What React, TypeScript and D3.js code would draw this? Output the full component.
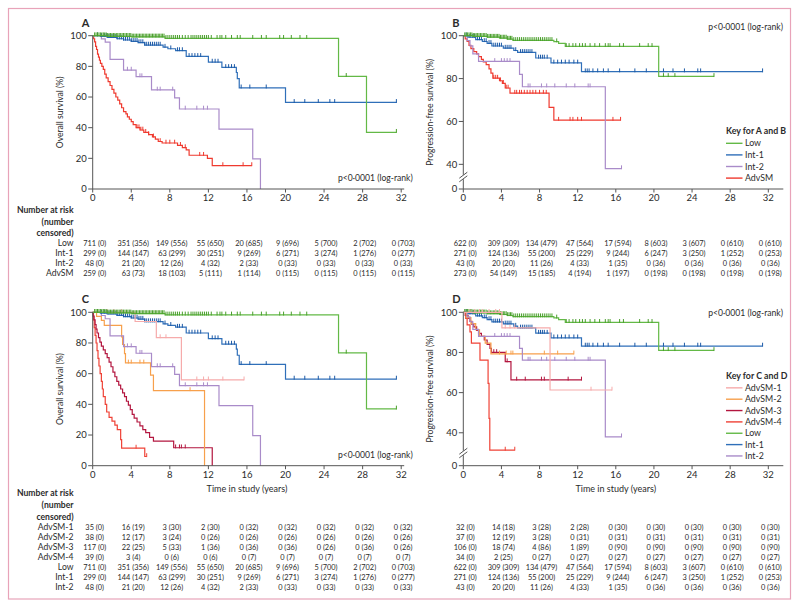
import React from "react";
import * as d3 from "d3";

type Pt = [number, number];

// ---------- categories ----------
const groupsAB = ["Low", "Int-1", "Int-2", "AdvSM"];
const groupsCD = ["AdvSM-1", "AdvSM-2", "AdvSM-3", "AdvSM-4", "Low", "Int-1", "Int-2"];
const timeTicks = [0, 4, 8, 12, 16, 20, 24, 28, 32];
const osTicks = [0, 20, 40, 60, 80, 100];
const pfsTicks = [40, 60, 80, 100];
const pText = "p<0·0001 (log-rank)";

// ---------- overall survival (A, C) ----------
const osLowSteps: Pt[] = [[0, 100], [1.5, 99.6], [4.0, 99.2], [7.5, 98.3], [25.5, 73.5], [28.4, 37]];
const osLowCens = [0.2, 0.35, 0.5, 0.65, 0.8, 0.95, 1.1, 1.25, 1.4, 1.55, 1.7, 1.85, 2.0, 2.15, 2.3, 2.45, 2.6, 2.75, 2.9, 3.05, 3.2, 3.35, 3.5, 3.65, 3.8, 3.95, 4.1, 4.25, 4.4, 4.55, 4.7, 4.85, 5.0, 5.15, 5.3, 5.45, 5.6, 5.75, 5.9, 6.05, 6.2, 6.35, 6.5, 6.65, 6.8, 6.95, 7.1, 7.25, 7.4, 7.6, 7.8, 8.0, 8.2, 8.4, 8.6, 8.8, 9.0, 9.3, 9.6, 9.9, 10.2, 10.4, 10.6, 10.8, 11.0, 11.2, 11.4, 11.6, 11.8, 12.0, 12.3, 12.9, 13.2, 13.4, 13.8, 14.4, 15.0, 15.3, 16.6, 17.5, 18.0, 19.4, 19.8, 20.6, 21.5, 22.2, 26.3, 31.5];
const osInt1Steps: Pt[] = [[0, 100], [0.8, 99.5], [1.5, 98.9], [2.5, 98], [3.2, 97.2], [4.0, 96.3], [4.7, 95.5], [5.4, 93.9], [7.3, 92.5], [7.8, 91.5], [8.6, 90.3], [9.7, 86.5], [12.0, 82.8], [13.4, 79.3], [14.9, 76], [15.0, 72], [15.2, 66], [20.0, 56.5]];
const osInt1Cens = [0.5, 0.9, 1.2, 1.4, 1.6, 1.8, 2.0, 2.2, 2.4, 2.6, 2.8, 3.0, 3.2, 3.4, 3.6, 3.8, 4.0, 4.2, 4.4, 4.6, 4.8, 5.0, 5.2, 5.4, 5.6, 5.8, 6.0, 6.2, 6.4, 6.6, 6.8, 7.0, 7.5, 8.1, 8.8, 9.0, 9.3, 10.0, 10.3, 10.6, 10.9, 11.2, 12.4, 12.7, 13.0, 13.8, 14.1, 14.4, 14.7, 15.4, 16.3, 18.0, 20.9, 22.0, 23.4, 24.6, 25.1, 31.5];
const osInt2Steps: Pt[] = [[0, 100], [0.9, 97.9], [1.3, 95.8], [1.8, 84.6], [3.2, 77.6], [4.5, 73.3], [6.1, 64.6], [8.5, 59.5], [9.0, 52.2], [13.1, 39.1], [16.6, 19.6], [17.4, 0]];
const osInt2Cens = [3.6, 4.0, 4.9, 5.1, 6.7, 7.0, 8.3, 9.6, 10.8, 11.5, 11.9];
const osAdvSteps: Pt[] = [[0, 100], [0.1, 98], [0.2, 96], [0.3, 93], [0.4, 91], [0.5, 88], [0.6, 86], [0.7, 84], [0.8, 82], [0.95, 80], [1.1, 78], [1.25, 75], [1.4, 72.5], [1.6, 70], [1.8, 67.5], [2.0, 65], [2.2, 62.5], [2.4, 60], [2.6, 58], [2.8, 55.5], [3.0, 53], [3.2, 50.5], [3.45, 49], [3.6, 47], [3.8, 45.5], [4.0, 44], [4.2, 42], [4.5, 40], [4.9, 38.5], [5.3, 37], [5.8, 35.5], [6.2, 34], [6.5, 32.5], [6.8, 31], [7.2, 30], [8.8, 28.5], [9.3, 27], [9.7, 25.5], [10.0, 22], [11.9, 20], [12.4, 15.3]];
const osAdvCens = [4.6, 4.8, 5.0, 5.2, 5.5, 5.8, 6.3, 7.0, 7.6, 8.0, 8.5, 9.1, 9.6, 11.1, 11.5, 13.5, 15.6, 16.5];
const osAdv1Steps: Pt[] = [[0, 100], [4.4, 94], [6.6, 83.5], [9.2, 56]];
const osAdv1Cens = [1.5, 2.2, 3.0, 7.0, 7.6, 10.8, 11.5, 12.0, 13.5, 15.7];
const osAdv2Steps: Pt[] = [[0, 100], [0.4, 97.4], [0.9, 94.7], [1.2, 91.5], [3.0, 84], [3.1, 79], [3.3, 73], [3.4, 67], [6.0, 59], [6.3, 49], [11.6, 0]];
const osAdv2Cens = [3.7, 4.0, 4.9, 5.3, 10.1];
const osAdv3Steps: Pt[] = [[0, 100], [0.05, 97.5], [0.15, 95], [0.25, 92], [0.35, 89], [0.45, 86.5], [0.6, 83.5], [0.75, 80.5], [0.9, 78], [1.1, 75.5], [1.3, 73], [1.5, 70.5], [1.7, 67.5], [1.9, 64.5], [2.1, 61], [2.3, 58], [2.5, 55], [2.7, 52.5], [2.9, 50], [3.1, 47.5], [3.3, 45], [3.5, 42], [3.7, 39.5], [3.9, 36.5], [4.1, 33.5], [4.3, 31], [4.6, 28.5], [4.9, 26], [5.2, 23.5], [5.5, 21.5], [5.9, 18.5], [6.3, 16], [8.4, 11.7], [12.4, 0]];
const osAdv3Cens = [8.6, 9.0, 9.2, 9.6];
const osAdv4Steps: Pt[] = [[0, 100], [0.08, 95], [0.16, 90], [0.25, 85], [0.35, 80], [0.45, 75], [0.55, 70], [0.65, 65], [0.77, 60], [0.9, 55], [1.0, 50], [1.1, 45], [1.3, 40], [1.45, 35], [1.7, 31.5], [2.0, 29], [2.3, 26.5], [2.55, 23.5], [2.9, 17], [3.0, 11.5], [5.4, 6]];
const osAdv4Cens = [4.5, 5.6];

// ---------- progression-free survival (B, D) ----------
const pfsLowSteps: Pt[] = [[0, 100], [1.0, 99.7], [2.5, 99.3], [3.8, 98.9], [4.6, 98.4], [5.2, 97.8], [9.5, 97.2], [10.0, 96.4], [10.7, 95], [20.5, 81]];
const pfsLowCens = [0.15, 0.3, 0.45, 0.6, 0.75, 0.9, 1.05, 1.2, 1.35, 1.5, 1.65, 1.8, 1.95, 2.1, 2.25, 2.4, 2.55, 2.7, 2.85, 3.0, 3.15, 3.3, 3.45, 3.6, 3.75, 3.9, 4.05, 4.2, 4.35, 4.5, 4.65, 4.8, 4.95, 5.1, 5.3, 5.5, 5.7, 5.9, 6.1, 6.3, 6.5, 6.7, 6.9, 7.1, 7.3, 7.5, 7.7, 7.9, 8.1, 8.3, 8.5, 8.7, 8.9, 9.1, 9.3, 9.8, 10.8, 11.1, 11.5, 11.8, 12.2, 12.5, 12.8, 13.3, 13.8, 14.3, 14.9, 15.2, 15.4, 16.4, 16.8, 18.5, 19.4, 19.8, 21.0, 21.5, 22.2, 26.3];
const pfsInt1Steps: Pt[] = [[0, 100], [0.5, 99.3], [1.3, 98.2], [2.0, 97.3], [2.5, 96.4], [3.0, 95.2], [4.2, 94.2], [5.3, 93.1], [5.7, 92.2], [7.6, 89.6], [9.2, 87.3], [12.4, 83.2]];
const pfsInt1Cens = [0.3, 0.7, 1.0, 1.2, 1.5, 1.7, 1.9, 2.2, 2.4, 2.7, 2.9, 3.2, 3.4, 3.6, 3.8, 4.0, 4.4, 4.6, 4.8, 5.0, 5.5, 6.0, 6.2, 6.4, 6.6, 6.8, 7.0, 7.2, 7.9, 8.1, 8.3, 8.5, 8.8, 9.5, 9.9, 10.3, 10.7, 11.1, 11.6, 12.0, 12.8, 13.0, 13.2, 13.6, 14.1, 14.7, 15.2, 16.4, 18.0, 19.2, 21.0, 22.0, 23.2, 24.6, 24.9, 31.4];
const pfsInt2Steps: Pt[] = [[0, 100], [0.4, 97.7], [0.7, 95.3], [1.0, 91.5], [1.6, 88], [5.9, 82], [6.2, 76.2], [14.9, 38]];
const pfsInt2Cens = [3.3, 4.0, 4.3, 4.6, 4.9, 6.8, 7.0, 8.2, 8.75, 9.6, 10.8, 11.7, 13.1, 13.3, 16.6];
const pfsAdvSteps: Pt[] = [[0, 100], [0.2, 98.5], [0.4, 97.3], [0.6, 95.5], [0.8, 94], [1.1, 92.6], [1.4, 91.5], [1.6, 90.2], [1.9, 89], [2.1, 87.8], [2.4, 86.5], [2.7, 84.5], [2.9, 82.5], [3.1, 80.2], [3.8, 79], [4.1, 77.8], [4.4, 75.6], [4.9, 73.2], [9.0, 66.6], [9.5, 60.6]];
const pfsAdvCens = [3.2, 3.4, 3.6, 3.9, 4.2, 4.5, 4.7, 5.4, 5.6, 5.9, 6.1, 6.4, 6.7, 7.0, 7.3, 7.6, 8.0, 8.4, 8.7, 10.0, 11.2, 11.5, 12.0, 12.4, 15.7, 16.5];
const pfsAdv1Steps: Pt[] = [[0, 100], [4.05, 92.2], [9.1, 61.3]];
const pfsAdv1Cens = [0.7, 1.2, 1.7, 2.0, 2.7, 3.4, 3.8, 4.4, 4.9, 5.4, 13.4, 15.6];
const pfsAdv2Steps: Pt[] = [[0, 100], [0.3, 97.3], [0.8, 94.4], [1.3, 91.3], [1.7, 88], [2.3, 84.6], [2.9, 79.3]];
const pfsAdv2Cens = [3.8, 4.5, 5.0, 5.2, 6.2, 8.5, 9.9, 11.6];
const pfsAdv3Steps: Pt[] = [[0, 100], [0.2, 98.5], [0.5, 97], [0.7, 95.5], [0.9, 94], [1.1, 92.7], [1.4, 91], [1.6, 89.5], [1.9, 88], [2.2, 86.2], [2.5, 84], [2.8, 82], [2.95, 80], [4.4, 75.4], [5.0, 66.3]];
const pfsAdv3Cens = [3.2, 3.5, 4.6, 5.6, 6.5, 8.2, 8.5, 11.0, 12.4];
const pfsAdv4Steps: Pt[] = [[0, 100], [0.25, 97], [0.4, 93.7], [0.7, 90.3], [0.85, 84.6], [1.75, 76.2], [2.6, 64.6], [2.7, 47.2], [2.78, 31.4]];
const pfsAdv4Cens = [4.4, 5.4];

// ---------- numbers at risk (censored) ----------
const riskOsLow = ["711 (0)", "351 (356)", "149 (556)", "55 (650)", "20 (685)", "9 (696)", "5 (700)", "2 (702)", "0 (703)"];
const riskOsInt1 = ["299 (0)", "144 (147)", "63 (299)", "30 (251)", "9 (269)", "6 (271)", "3 (274)", "1 (276)", "0 (277)"];
const riskOsInt2 = ["48 (0)", "21 (20)", "12 (26)", "4 (32)", "2 (33)", "0 (33)", "0 (33)", "0 (33)", "0 (33)"];
const riskOsAdv = ["259 (0)", "63 (73)", "18 (103)", "5 (111)", "1 (114)", "0 (115)", "0 (115)", "0 (115)", "0 (115)"];
const riskOsAdv1 = ["35 (0)", "16 (19)", "3 (30)", "2 (30)", "0 (32)", "0 (32)", "0 (32)", "0 (32)", "0 (32)"];
const riskOsAdv2 = ["38 (0)", "12 (17)", "3 (24)", "0 (26)", "0 (26)", "0 (26)", "0 (26)", "0 (26)", "0 (26)"];
const riskOsAdv3 = ["117 (0)", "22 (25)", "5 (33)", "1 (36)", "0 (36)", "0 (36)", "0 (26)", "0 (36)", "0 (26)"];
const riskOsAdv4 = ["39 (0)", "3 (4)", "0 (6)", "0 (6)", "0 (7)", "0 (7)", "0 (7)", "0 (7)", "0 (7)"];
const riskPfsLow = ["622 (0)", "309 (309)", "134 (479)", "47 (564)", "17 (594)", "8 (603)", "3 (607)", "0 (610)", "0 (610)"];
const riskPfsInt1 = ["271 (0)", "124 (136)", "55 (200)", "25 (229)", "9 (244)", "6 (247)", "3 (250)", "1 (252)", "0 (253)"];
const riskPfsInt2 = ["43 (0)", "20 (20)", "11 (26)", "4 (33)", "1 (35)", "0 (36)", "0 (36)", "0 (36)", "0 (36)"];
const riskPfsAdv = ["273 (0)", "54 (149)", "15 (185)", "4 (194)", "1 (197)", "0 (198)", "0 (198)", "0 (198)", "0 (198)"];
const riskPfsAdv1 = ["32 (0)", "14 (18)", "3 (28)", "2 (28)", "0 (30)", "0 (30)", "0 (30)", "0 (30)", "0 (30)"];
const riskPfsAdv2 = ["37 (0)", "12 (19)", "3 (28)", "0 (31)", "0 (31)", "0 (31)", "0 (31)", "0 (31)", "0 (31)"];
const riskPfsAdv3 = ["106 (0)", "18 (74)", "4 (86)", "1 (89)", "0 (90)", "0 (90)", "0 (90)", "0 (90)", "0 (90)"];
const riskPfsAdv4 = ["34 (0)", "2 (25)", "0 (27)", "0 (27)", "0 (27)", "0 (27)", "0 (27)", "0 (27)", "0 (27)"];

// ---------- styles ----------
const FONT = "Lato, 'Open Sans', 'DejaVu Sans', sans-serif";
const TXT = "#2b2b2b";
const AX = "#555";
const COLORS: Record<string, string> = {
  Low: "#63b946",
  "Int-1": "#2f6fb9",
  "Int-2": "#a98bc9",
  AdvSM: "#ef3a2f",
  "AdvSM-1": "#f6abab",
  "AdvSM-2": "#f7a04c",
  "AdvSM-3": "#b3163f",
  "AdvSM-4": "#ef4236",
};
const TICK_COLORS: Record<string, string> = {
  Low: "#4a9f2c",
  "Int-1": "#1d5aa6",
};

interface Series { name: string; steps: Pt[]; cens: number[] }

const seriesA: Series[] = [
  { name: "AdvSM", steps: osAdvSteps, cens: osAdvCens },
  { name: "Int-2", steps: osInt2Steps, cens: osInt2Cens },
  { name: "Int-1", steps: osInt1Steps, cens: osInt1Cens },
  { name: "Low", steps: osLowSteps, cens: osLowCens },
];
const seriesB: Series[] = [
  { name: "AdvSM", steps: pfsAdvSteps, cens: pfsAdvCens },
  { name: "Int-2", steps: pfsInt2Steps, cens: pfsInt2Cens },
  { name: "Int-1", steps: pfsInt1Steps, cens: pfsInt1Cens },
  { name: "Low", steps: pfsLowSteps, cens: pfsLowCens },
];
const seriesC: Series[] = [
  { name: "AdvSM-4", steps: osAdv4Steps, cens: osAdv4Cens },
  { name: "AdvSM-3", steps: osAdv3Steps, cens: osAdv3Cens },
  { name: "AdvSM-2", steps: osAdv2Steps, cens: osAdv2Cens },
  { name: "Int-2", steps: osInt2Steps, cens: osInt2Cens },
  { name: "Int-1", steps: osInt1Steps, cens: osInt1Cens },
  { name: "AdvSM-1", steps: osAdv1Steps, cens: osAdv1Cens },
  { name: "Low", steps: osLowSteps, cens: osLowCens },
];
const seriesD: Series[] = [
  { name: "AdvSM-4", steps: pfsAdv4Steps, cens: pfsAdv4Cens },
  { name: "AdvSM-3", steps: pfsAdv3Steps, cens: pfsAdv3Cens },
  { name: "AdvSM-2", steps: pfsAdv2Steps, cens: pfsAdv2Cens },
  { name: "Int-2", steps: pfsInt2Steps, cens: pfsInt2Cens },
  { name: "Int-1", steps: pfsInt1Steps, cens: pfsInt1Cens },
  { name: "Low", steps: pfsLowSteps, cens: pfsLowCens },
  { name: "AdvSM-1", steps: pfsAdv1Steps, cens: pfsAdv1Cens },
];

const riskA = [riskOsLow, riskOsInt1, riskOsInt2, riskOsAdv];
const riskB = [riskPfsLow, riskPfsInt1, riskPfsInt2, riskPfsAdv];
const riskC = [riskOsAdv1, riskOsAdv2, riskOsAdv3, riskOsAdv4, riskOsLow, riskOsInt1, riskOsInt2];
const riskD = [riskPfsAdv1, riskPfsAdv2, riskPfsAdv3, riskPfsAdv4, riskPfsLow, riskPfsInt1, riskPfsInt2];

function valueAt(steps: Pt[], t: number) {
  let v = steps[0][1];
  for (const [tt, s] of steps) {
    if (tt <= t + 1e-9) v = s;
    else break;
  }
  return v;
}

interface PanelProps {
  label: string;
  xRange: [number, number];
  yDomain: [number, number];
  yRange: [number, number];
  yTicks: number[];
  breakY?: number;
  yTitle: string;
  series: Series[];
  pPos: { x: number; y: number; anchor: "start" | "end" };
  xTitle?: boolean;
  axisExtend: number;
}

function Panel(p: PanelProps) {
  const x = d3.scaleLinear().domain([0, 32]).range(p.xRange);
  const y = d3.scaleLinear().domain(p.yDomain).range(p.yRange);
  const x0 = x(0);
  const yBottom = p.yRange[0];
  const yTop = y(100);
  const line = d3
    .line<Pt>()
    .x((d) => x(d[0]))
    .y((d) => y(d[1]))
    .curve(d3.curveStepAfter);
  return (
    <g>
      <text x={x0 - 11} y={yTop - 9} fontFamily={FONT} fontWeight="bold" fontSize={11} fill={TXT}>
        {p.label}
      </text>
      {p.series.map((s) => {
        const last = s.steps[s.steps.length - 1];
        const end = Math.max(last[0], ...s.cens);
        const pts: Pt[] = [...s.steps, [end, last[1]]];
        const c = COLORS[s.name];
        const tc = TICK_COLORS[s.name] || c;
        return (
          <g key={s.name}>
            <path d={line(pts) || ""} fill="none" stroke={c} strokeWidth={1.2} />
            {s.cens.map((t, i) => {
              const cx = x(t);
              const cy = y(valueAt(s.steps, t));
              return <line key={i} x1={cx} x2={cx} y1={cy - 3.3} y2={cy + 0.6} stroke={tc} strokeWidth={1} />;
            })}
          </g>
        );
      })}
      <line x1={x0} x2={x(32) + p.axisExtend} y1={yBottom} y2={yBottom} stroke={AX} strokeWidth={1} />
      {timeTicks.map((t) => (
        <g key={t}>
          <line x1={x(t)} x2={x(t)} y1={yBottom} y2={yBottom + 3.5} stroke={AX} strokeWidth={1} />
          <text x={x(t)} y={yBottom + 12} textAnchor="middle" fontFamily={FONT} fontSize={9.5} fill={TXT}>
            {t}
          </text>
        </g>
      ))}
      {p.breakY === undefined ? (
        <line x1={x0} x2={x0} y1={yTop} y2={yBottom} stroke={AX} strokeWidth={1} />
      ) : (
        <g>
          <line x1={x0} x2={x0} y1={yTop} y2={p.breakY - 2.2} stroke={AX} strokeWidth={1} />
          <line x1={x0} x2={x0} y1={p.breakY + 2.2} y2={yBottom} stroke={AX} strokeWidth={1} />
          <line x1={x0 - 4} x2={x0 + 4} y1={p.breakY + 1.2} y2={p.breakY - 4.8} stroke={AX} strokeWidth={1} />
          <line x1={x0 - 4} x2={x0 + 4} y1={p.breakY + 4.8} y2={p.breakY - 1.2} stroke={AX} strokeWidth={1} />
          <line x1={x0 - 4.5} x2={x0} y1={yBottom} y2={yBottom} stroke={AX} strokeWidth={1} />
          <text x={x0 - 6} y={yBottom + 3.3} textAnchor="end" fontFamily={FONT} fontSize={9.5} fill={TXT}>
            0
          </text>
        </g>
      )}
      {p.yTicks.map((v) => (
        <g key={v}>
          <line x1={x0 - 4.5} x2={x0} y1={y(v)} y2={y(v)} stroke={AX} strokeWidth={1} />
          <text x={x0 - 6} y={y(v) + 3.3} textAnchor="end" fontFamily={FONT} fontSize={9.5} fill={TXT}>
            {v}
          </text>
        </g>
      ))}
      <text
        transform={`translate(${x0 - 30},${(yTop + yBottom) / 2}) rotate(-90)`}
        textAnchor="middle"
        fontFamily={FONT}
        fontSize={8.6}
        fill={TXT}
      >
        {p.yTitle}
      </text>
      <text x={p.pPos.x} y={p.pPos.y} textAnchor={p.pPos.anchor} fontFamily={FONT} fontSize={8.6} fill={TXT}>
        {pText}
      </text>
      {p.xTitle && (
        <text x={(x(0) + x(32)) / 2} y={yBottom + 26} textAnchor="middle" fontFamily={FONT} fontSize={9} fill={TXT}>
          Time in study (years)
        </text>
      )}
    </g>
  );
}

function RiskTable(props: {
  xRange: [number, number];
  rows: string[][];
  labels?: string[];
  headerY: number;
  firstRowY: number;
  rowGap: number;
}) {
  const x = d3.scaleLinear().domain([0, 32]).range(props.xRange);
  return (
    <g fontFamily={FONT} fill={TXT}>
      {props.labels && (
        <g>
          {["Number at risk", "(number", "censored)"].map((s, i) => (
            <text key={s} x={73.5} y={props.headerY + i * 11.6 + 3} textAnchor="end" fontSize={8.6} fontWeight="bold">
              {s}
            </text>
          ))}
          {props.labels.map((l, i) => (
            <text key={l} x={73.5} y={props.firstRowY + i * props.rowGap + 3} textAnchor="end" fontSize={8.6}>
              {l}
            </text>
          ))}
        </g>
      )}
      {props.rows.map((row, i) =>
        row.map((v, j) => (
          <text
            key={`${i}-${j}`}
            x={x(timeTicks[j]) + 2}
            y={props.firstRowY + i * props.rowGap + 2.7}
            textAnchor="middle"
            fontSize={7.4}
          >
            {v}
          </text>
        ))
      )}
    </g>
  );
}

function Legend(props: { x: number; y: number; title: string; names: string[]; gap: number }) {
  return (
    <g fontFamily={FONT} fill={TXT}>
      <text x={props.x} y={props.y + 3} fontSize={8.8} fontWeight="bold">
        {props.title}
      </text>
      {props.names.map((n, i) => {
        const yy = props.y + (i + 1) * props.gap + 1;
        return (
          <g key={n}>
            <line x1={props.x} x2={props.x + 16.5} y1={yy} y2={yy} stroke={COLORS[n]} strokeWidth={1.4} />
            <text x={props.x + 19} y={yy + 3} fontSize={8.8}>
              {n}
            </text>
          </g>
        );
      })}
    </g>
  );
}

export default function App() {
  const xLeft: [number, number] = [92.7, 401.2];
  const xRight: [number, number] = [463.3, 768.3];
  return (
    <svg
      width={800}
      height={608}
      viewBox="0 0 800 608"
      style={{ position: "absolute", left: 0, top: 0, background: "#fff" }}
    >
      <rect x={0} y={0} width={800} height={608} fill="#fff" />
      <rect x={8.5} y={8.5} width={782} height={590.5} fill="none" stroke="#e8a3b9" strokeWidth={1.2} />
      <Panel
        label="A"
        xRange={xLeft}
        yDomain={[0, 100]}
        yRange={[189, 35.7]}
        yTicks={osTicks}
        yTitle="Overall survival (%)"
        series={seriesA}
        pPos={{ x: 338, y: 181, anchor: "start" }}
        axisExtend={3}
      />
      <Panel
        label="B"
        xRange={xRight}
        yDomain={[28.5, 100]}
        yRange={[189, 35.7]}
        yTicks={pfsTicks}
        breakY={177}
        yTitle="Progression-free survival (%)"
        series={seriesB}
        pPos={{ x: 783, y: 30, anchor: "end" }}
        axisExtend={15}
      />
      <Panel
        label="C"
        xRange={xLeft}
        yDomain={[0, 100]}
        yRange={[465.7, 312.3]}
        yTicks={osTicks}
        yTitle="Overall survival (%)"
        series={seriesC}
        pPos={{ x: 338, y: 458, anchor: "start" }}
        xTitle
        axisExtend={3}
      />
      <Panel
        label="D"
        xRange={xRight}
        yDomain={[23.6, 100]}
        yRange={[465.7, 312.3]}
        yTicks={pfsTicks}
        breakY={453}
        yTitle="Progression-free survival (%)"
        series={seriesD}
        pPos={{ x: 783, y: 316, anchor: "end" }}
        xTitle
        axisExtend={15}
      />
      <Legend x={726} y={130.7} title="Key for A and B" names={groupsAB} gap={11.6} />
      <Legend x={726} y={375.5} title="Key for C and D" names={groupsCD} gap={11.35} />
      <RiskTable xRange={xLeft} rows={riskA} labels={groupsAB} headerY={210} firstRowY={243.3} rowGap={10} />
      <RiskTable xRange={xRight} rows={riskB} headerY={210} firstRowY={243.3} rowGap={10} />
      <RiskTable xRange={xLeft} rows={riskC} labels={groupsCD} headerY={493.3} firstRowY={527.3} rowGap={9.95} />
      <RiskTable xRange={xRight} rows={riskD} headerY={493.3} firstRowY={527.3} rowGap={9.95} />
    </svg>
  );
}
